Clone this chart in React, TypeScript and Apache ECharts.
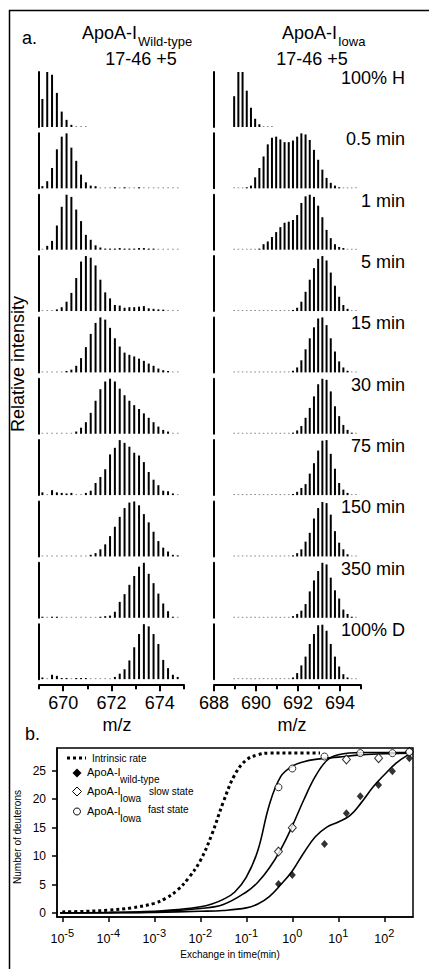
import React, { useEffect, useRef } from 'react';
import * as echarts from 'echarts';

// ---------------- Panel a data ----------------
const mzWT = [669.14, 669.34, 669.54, 669.74, 669.94, 670.14, 670.34, 670.54, 670.74, 670.94, 671.14, 671.34, 671.54, 671.74, 671.94, 672.14, 672.34, 672.54, 672.74, 672.94, 673.14, 673.34, 673.54, 673.74, 673.94, 674.14, 674.34, 674.54, 674.74];
const mzIowa = [688.96, 689.16, 689.36, 689.56, 689.76, 689.96, 690.16, 690.36, 690.56, 690.76, 690.96, 691.16, 691.36, 691.56, 691.76, 691.96, 692.16, 692.36, 692.56, 692.76, 692.96, 693.16, 693.36, 693.56, 693.76, 693.96, 694.16, 694.36, 694.56, 694.76];

const timeLabels = ['100% H', '0.5 min', '1 min', '5 min', '15 min', '30 min', '75 min', '150 min', '350 min', '100% D'];

const wt100H = [0.51, 1.0, 0.95, 0.62, 0.28, 0.13, 0.04, 0.01, 0.01, 0.01];
const wt05 = [0.04, 0.13, 0.37, 0.71, 0.94, 1.0, 0.74, 0.5, 0.25, 0.11, 0.05, 0.04, 0.01, 0.01, 0.01, 0.02, 0.01, 0.02, 0.01, 0.01, 0.02, 0.01, 0.01, 0.01, 0.01, 0.01, 0.01, 0.01, 0.01];
const wt1 = [0.01, 0.07, 0.16, 0.44, 0.78, 1.0, 0.96, 0.73, 0.52, 0.27, 0.18, 0.08, 0.04, 0.02, 0.02, 0.02, 0.03, 0.02, 0.02, 0.02, 0.03, 0.03, 0.02, 0.02, 0.01, 0.01, 0.01, 0.01, 0.01];
const wt5 = [0.01, 0.01, 0.01, 0.03, 0.07, 0.17, 0.33, 0.6, 0.9, 1.0, 0.97, 0.83, 0.57, 0.34, 0.23, 0.11, 0.1, 0.06, 0.07, 0.07, 0.08, 0.09, 0.05, 0.04, 0.03, 0.025, 0.01, 0.01, 0.01];
const wt15 = [0.01, 0.01, 0.01, 0.01, 0.01, 0.025, 0.05, 0.12, 0.26, 0.46, 0.7, 0.9, 1.0, 0.96, 0.81, 0.62, 0.47, 0.36, 0.32, 0.29, 0.25, 0.21, 0.16, 0.12, 0.07, 0.04, 0.025, 0.01, 0.01];
const wt30 = [0.01, 0.01, 0.01, 0.01, 0.01, 0.01, 0.01, 0.04, 0.11, 0.21, 0.38, 0.6, 0.81, 0.95, 1.0, 0.95, 0.82, 0.7, 0.6, 0.52, 0.45, 0.37, 0.29, 0.21, 0.13, 0.07, 0.04, 0.01, 0.01];
const wt75 = [0.05, 0.01, 0.09, 0.05, 0.04, 0.03, 0.04, 0.01, 0.01, 0.04, 0.08, 0.22, 0.33, 0.47, 0.74, 0.86, 1.0, 0.95, 0.88, 0.77, 0.72, 0.6, 0.42, 0.28, 0.18, 0.08, 0.07, 0.03, 0.01];
const wt150 = [0.01, 0.01, 0.01, 0.01, 0.01, 0.01, 0.01, 0.01, 0.01, 0.01, 0.03, 0.06, 0.13, 0.22, 0.37, 0.54, 0.72, 0.88, 0.98, 1.0, 0.93, 0.77, 0.62, 0.45, 0.28, 0.16, 0.09, 0.03, 0.02];
const wt350 = [0.02, 0.01, 0.02, 0.02, 0.01, 0.01, 0.01, 0.01, 0.01, 0.01, 0.01, 0.01, 0.02, 0.03, 0.04, 0.11, 0.29, 0.43, 0.6, 0.76, 0.93, 1.0, 0.8, 0.63, 0.44, 0.26, 0.12, 0.02, 0.01];
const wt100D = [0.03, 0.01, 0.08, 0.06, 0.02, 0.02, 0.01, 0.02, 0.02, 0.02, 0.01, 0.01, 0.01, 0.01, 0.01, 0.04, 0.1, 0.18, 0.34, 0.58, 0.82, 1.0, 0.96, 0.82, 0.64, 0.35, 0.2, 0.08, 0.04];
const wtSpectra = [wt100H, wt05, wt1, wt5, wt15, wt30, wt75, wt150, wt350, wt100D];

const iowa100H = [0.56, 1.0, 1.0, 0.66, 0.35, 0.15, 0.05, 0.01, 0.01, 0.01];
const iowa05 = [0.01, 0.01, 0.01, 0.02, 0.05, 0.2, 0.37, 0.58, 0.8, 0.92, 0.94, 0.89, 0.84, 0.84, 0.87, 0.94, 1.0, 0.98, 0.88, 0.7, 0.52, 0.34, 0.19, 0.1, 0.05, 0.02, 0.01, 0.01, 0.01, 0.01];
const iowa1 = [0.01, 0.01, 0.01, 0.01, 0.01, 0.01, 0.02, 0.1, 0.15, 0.23, 0.32, 0.41, 0.49, 0.51, 0.54, 0.63, 0.85, 0.97, 1.0, 0.96, 0.8, 0.59, 0.36, 0.21, 0.1, 0.05, 0.03, 0.01, 0.01, 0.01];
const iowa5 = [0.01, 0.01, 0.01, 0.01, 0.01, 0.01, 0.01, 0.01, 0.01, 0.01, 0.01, 0.01, 0.01, 0.01, 0.02, 0.06, 0.17, 0.35, 0.57, 0.78, 0.95, 1.0, 0.92, 0.7, 0.46, 0.26, 0.11, 0.04, 0.01, 0.01];
const iowa15 = [0.01, 0.01, 0.01, 0.01, 0.01, 0.01, 0.01, 0.01, 0.01, 0.01, 0.01, 0.01, 0.01, 0.01, 0.03, 0.09, 0.22, 0.42, 0.62, 0.82, 0.98, 1.0, 0.86, 0.62, 0.38, 0.2, 0.09, 0.03, 0.01, 0.01];
const iowa30 = [0.01, 0.01, 0.01, 0.01, 0.01, 0.01, 0.01, 0.01, 0.01, 0.01, 0.01, 0.01, 0.01, 0.01, 0.02, 0.06, 0.14, 0.29, 0.47, 0.68, 0.9, 1.0, 0.98, 0.77, 0.5, 0.32, 0.16, 0.07, 0.02, 0.01];
const iowa75 = [0.01, 0.01, 0.01, 0.01, 0.01, 0.01, 0.01, 0.01, 0.01, 0.01, 0.01, 0.01, 0.01, 0.01, 0.02, 0.06, 0.13, 0.2, 0.39, 0.58, 0.81, 0.99, 1.0, 0.75, 0.48, 0.22, 0.1, 0.04, 0.01, 0.01];
const iowa150 = [0.01, 0.01, 0.01, 0.01, 0.01, 0.01, 0.01, 0.01, 0.01, 0.01, 0.01, 0.01, 0.01, 0.01, 0.02, 0.06, 0.13, 0.27, 0.43, 0.69, 0.88, 0.99, 0.97, 0.76, 0.46, 0.25, 0.13, 0.04, 0.01, 0.01];
const iowa350 = [0.01, 0.01, 0.01, 0.01, 0.01, 0.01, 0.01, 0.01, 0.01, 0.01, 0.01, 0.01, 0.01, 0.01, 0.03, 0.07, 0.13, 0.25, 0.48, 0.68, 0.85, 1.0, 0.97, 0.73, 0.5, 0.35, 0.15, 0.07, 0.02, 0.01];
const iowa100D = [0.01, 0.01, 0.01, 0.01, 0.01, 0.01, 0.01, 0.01, 0.01, 0.01, 0.01, 0.01, 0.01, 0.01, 0.03, 0.11, 0.25, 0.41, 0.64, 0.82, 0.98, 0.99, 0.88, 0.64, 0.41, 0.23, 0.09, 0.03, 0.01, 0.01];
const iowaSpectra = [iowa100H, iowa05, iowa1, iowa5, iowa15, iowa30, iowa75, iowa150, iowa350, iowa100D];

const wtMajorTicks = [670, 672, 674];
const wtMinorTicks = [669, 671, 673, 675];
const iowaMajorTicks = [688, 690, 692, 694];
const iowaMinorTicks = [689, 691, 693, 695];

// ---------------- Panel b data ----------------
const timeTicks = [1e-5, 1e-4, 1e-3, 1e-2, 1e-1, 1, 10, 100];
const deutTicks = [0, 5, 10, 15, 20, 25];

const wtTimes = [0.5, 1, 5, 15, 30, 75, 150, 350];
const wtDeut = [5.1, 6.7, 12.15, 17.55, 20.5, 22.5, 24.9, 27.2];
const slowTimes = [0.5, 1, 15, 75, 350];
const slowDeut = [10.8, 15.0, 27.0, 27.2, 28.3];
const fastTimes = [0.5, 1, 5, 30, 150, 350];
const fastDeut = [22.1, 25.4, 27.5, 28.1, 28.1, 28.3];

const intrinsicCurve = [[1e-5, 0.2], [3.16e-5, 0.3], [1e-4, 0.5], [3.16e-4, 0.9], [1e-3, 1.7], [1.78e-3, 2.6], [3.16e-3, 4.0], [5.62e-3, 6.2], [0.01, 9.2], [0.0178, 13.8], [0.0316, 19.5], [0.0562, 24.3], [0.1, 26.9], [0.178, 27.8], [0.316, 28.1], [1, 28.1], [4, 28.1]];
const fastCurve = [[9e-6, 0.05], [1e-4, 0.1], [1e-3, 0.3], [3.16e-3, 0.6], [0.01, 1.1], [0.0178, 1.6], [0.0316, 2.4], [0.0562, 3.7], [0.1, 6.3], [0.178, 11.0], [0.316, 19.0], [0.562, 24.0], [1, 25.8], [1.78, 26.6], [3.16, 27.0], [10, 27.4], [31.6, 27.8], [100, 28.0], [420, 28.1]];
const slowCurve = [[9e-6, 0.03], [1e-4, 0.07], [1e-3, 0.2], [0.01, 0.8], [0.0316, 1.5], [0.1, 3.7], [0.178, 5.4], [0.316, 7.9], [0.562, 11.2], [1, 15.3], [1.78, 19.9], [3.16, 24.0], [5.62, 26.8], [10, 27.8], [31.6, 28.2], [420, 28.2]];
const wtCurve = [[9e-6, 0.03], [1e-4, 0.05], [1e-3, 0.12], [0.01, 0.3], [0.0316, 0.45], [0.1, 0.9], [0.178, 1.6], [0.316, 2.9], [0.562, 5.0], [1, 7.4], [1.78, 10.6], [3.16, 13.4], [5.62, 15.1], [10, 16.0], [17.8, 17.1], [31.6, 19.4], [56.2, 22.1], [100, 24.3], [178, 26.3], [316, 27.7], [420, 28.1]];

// ---------------- helpers ----------------
const FAMILY = '"Liberation Sans", Arial, Helvetica, sans-serif';
const font = (s: number) => `${s}px ${FAMILY}`;

function txt(x: number, y: number, s: string, size: number, align = 'left', extra: any = {}) {
  return {
    type: 'text', x, y, silent: true, ...extra,
    style: { text: s, font: font(size), fill: '#000', align, verticalAlign: 'middle', textAlign: align, textVerticalAlign: 'middle' },
  };
}

const barItem = (params: any, api: any) => {
  const x = api.value(0);
  const y = api.value(1);
  const p0 = api.coord([x, 0]);
  const p1 = api.coord([x, y]);
  const tiny = y <= 0.012;
  const h = Math.max(p0[1] - p1[1], 1);
  const w = tiny ? 1.6 : 2;
  return {
    type: 'rect',
    shape: { x: p0[0] - w / 2, y: p0[1] - h, width: w, height: h },
    style: { fill: tiny ? '#8a8a8a' : '#000' },
  };
};

function buildOption() {
  const grids: any[] = [];
  const xAxes: any[] = [];
  const yAxes: any[] = [];
  const series: any[] = [];
  const ROW_TOP = 72;
  const ROW_PITCH = 61.35;
  const ROW_H = 55;

  const panels = [
    { left: 39, width: 145, min: 669, max: 675, mz: mzWT, spectra: wtSpectra, major: wtMajorTicks, minor: wtMinorTicks },
    { left: 214, width: 147, min: 688, max: 695, mz: mzIowa, spectra: iowaSpectra, major: iowaMajorTicks, minor: iowaMinorTicks },
  ];

  panels.forEach((p) => {
    p.spectra.forEach((vals, k) => {
      const gi = grids.length;
      grids.push({ left: p.left, top: ROW_TOP + ROW_PITCH * k, width: p.width, height: ROW_H });
      const bottom = k === p.spectra.length - 1;
      const xi = xAxes.length;
      xAxes.push({
        type: 'value', gridIndex: gi, min: p.min, max: p.max, position: 'bottom', offset: bottom ? 6 : 0, show: bottom,
        axisLine: { show: bottom, onZero: false, lineStyle: { color: '#000', width: 2 } },
        axisTick: { show: bottom, customValues: p.major, length: 6, lineStyle: { color: '#000', width: 2 } },
        axisLabel: { show: bottom, customValues: p.major, fontSize: 18, fontFamily: FAMILY, color: '#000', margin: 9 },
        splitLine: { show: false },
      });
      if (bottom) {
        xAxes.push({
          type: 'value', gridIndex: gi, min: p.min, max: p.max, position: 'bottom', offset: 6,
          axisLine: { show: false, onZero: false },
          axisTick: { show: true, customValues: p.minor, length: 4, lineStyle: { color: '#000', width: 2 } },
          axisLabel: { show: false },
          splitLine: { show: false },
        });
      }
      const yi = yAxes.length;
      yAxes.push({
        type: 'value', gridIndex: gi, min: 0, max: 1,
        axisLine: { show: true, onZero: false, lineStyle: { color: '#000', width: 2 } },
        axisTick: { show: false }, axisLabel: { show: false }, splitLine: { show: false },
      });
      const data: any[] = [];
      p.mz.forEach((m, i) => {
        if (vals[i] !== undefined && vals[i] !== null) data.push([m, vals[i]]);
      });
      series.push({ type: 'custom', xAxisIndex: xi, yAxisIndex: yi, renderItem: barItem, data, clip: false, silent: true });
    });
  });

  // panel b
  const bg = grids.length;
  grids.push({ left: 57, top: 748, width: 356, height: 169, show: true, borderColor: '#000', borderWidth: 1.5, backgroundColor: 'transparent' });
  const bx = xAxes.length;
  xAxes.push({
    type: 'log', logBase: 10, gridIndex: bg, min: 7.67e-6, max: 420, position: 'bottom',
    axisLine: { show: true, onZero: false, lineStyle: { color: '#000', width: 1.5 } },
    axisTick: { show: true, customValues: timeTicks, length: 5, lineStyle: { color: '#000', width: 1.5 } },
    minorTick: { show: false },
    axisLabel: {
      show: true, customValues: timeTicks, margin: 10, color: '#000',
      formatter: (v: number) => `{b|10}{s|${Math.round(Math.log10(v))}}`,
      rich: {
        b: { fontSize: 12.5, fontFamily: FAMILY, color: '#000', padding: [5, 0, 0, 0], verticalAlign: 'bottom' },
        s: { fontSize: 11, fontFamily: FAMILY, color: '#000', verticalAlign: 'top' },
      },
    },
    splitLine: { show: false },
  });
  const by = yAxes.length;
  yAxes.push({
    type: 'value', gridIndex: bg, min: -0.7, max: 29,
    axisLine: { show: true, onZero: false, lineStyle: { color: '#000', width: 1.5 } },
    axisTick: { show: true, customValues: deutTicks, length: 5, lineStyle: { color: '#000', width: 1.5 } },
    axisLabel: { show: true, customValues: deutTicks, fontSize: 12, fontFamily: FAMILY, color: '#000', margin: 11 },
    splitLine: { show: false },
  });

  const lineBase = { type: 'line', xAxisIndex: bx, yAxisIndex: by, showSymbol: false, smooth: 0.4, silent: true };
  series.push({ ...lineBase, name: 'Intrinsic rate', data: intrinsicCurve, lineStyle: { color: '#000', width: 3, type: [3, 3], cap: 'butt' }, z: 3 });
  series.push({ ...lineBase, name: 'fast fit', data: fastCurve, lineStyle: { color: '#000', width: 1.6 }, z: 3 });
  series.push({ ...lineBase, name: 'slow fit', data: slowCurve, lineStyle: { color: '#000', width: 1.6 }, z: 3 });
  series.push({ ...lineBase, name: 'wt fit', data: wtCurve, lineStyle: { color: '#000', width: 1.6 }, z: 3 });

  series.push({
    type: 'scatter', xAxisIndex: bx, yAxisIndex: by, name: 'ApoA-I wild-type', symbol: 'diamond', symbolSize: [7, 8],
    data: wtTimes.map((t, i) => [t, wtDeut[i]]), itemStyle: { color: '#000' }, z: 5, silent: true,
  });
  series.push({
    type: 'scatter', xAxisIndex: bx, yAxisIndex: by, name: 'ApoA-I Iowa slow state', symbol: 'diamond', symbolSize: [8, 9],
    data: slowTimes.map((t, i) => [t, slowDeut[i]]), itemStyle: { color: '#fff', borderColor: '#000', borderWidth: 1 }, z: 5, silent: true,
  });
  series.push({
    type: 'scatter', xAxisIndex: bx, yAxisIndex: by, name: 'ApoA-I Iowa fast state', symbol: 'circle', symbolSize: 7,
    data: fastTimes.map((t, i) => [t, fastDeut[i]]), itemStyle: { color: '#fff', borderColor: '#000', borderWidth: 1 }, z: 6, silent: true,
  });

  // graphics
  const graphics: any[] = [];
  graphics.push({ type: 'rect', silent: true, shape: { x: 9.5, y: 10.5, width: 440, height: 980 }, style: { fill: 'none', stroke: '#000', lineWidth: 1.5 } });
  graphics.push(txt(22, 38, 'a.', 18));
  graphics.push(txt(82, 33, 'ApoA-I', 18));
  graphics.push(txt(138, 41, 'Wild-type', 13));
  graphics.push(txt(141, 59, '17-46 +5', 18, 'center'));
  graphics.push(txt(282, 33, 'ApoA-I', 18));
  graphics.push(txt(338, 41, 'Iowa', 13));
  graphics.push(txt(312, 59, '17-46 +5', 18, 'center'));
  timeLabels.forEach((l, k) => {
    graphics.push(txt(405, ROW_TOP + ROW_PITCH * k + 6, l, 18, 'right'));
  });
  graphics.push(txt(18, 364, 'Relative intensity', 18, 'center', { rotation: Math.PI / 2 }));
  graphics.push(txt(117, 725, 'm/z', 18, 'center'));
  graphics.push(txt(292, 725, 'm/z', 18, 'center'));
  graphics.push(txt(25, 734, 'b.', 18));
  graphics.push(txt(17, 837, 'Number of deuterons', 10, 'center', { rotation: Math.PI / 2 }));
  graphics.push(txt(230, 954, 'Exchange in time(min)', 10, 'center'));

  // legend of panel b
  graphics.push({ type: 'line', silent: true, shape: { x1: 67, y1: 758, x2: 86, y2: 758 }, style: { stroke: '#000', lineWidth: 3, lineDash: [3, 3] } });
  graphics.push(txt(92, 758, 'Intrinsic rate', 10));
  graphics.push({ type: 'polygon', silent: true, shape: { points: [[77, 768.5], [81.5, 773], [77, 777.5], [72.5, 773]] }, style: { fill: '#000' } });
  graphics.push(txt(87, 772, 'ApoA-I', 11));
  graphics.push(txt(120, 779, 'wild-type', 10));
  graphics.push({ type: 'polygon', silent: true, shape: { points: [[77, 787], [81.5, 791.5], [77, 796], [72.5, 791.5]] }, style: { fill: '#fff', stroke: '#000', lineWidth: 1 } });
  graphics.push(txt(87, 791, 'ApoA-I', 11));
  graphics.push(txt(120, 798.5, 'Iowa', 10));
  graphics.push(txt(149, 791, 'slow state', 10));
  graphics.push({ type: 'circle', silent: true, shape: { cx: 77, cy: 811.5, r: 3.5 }, style: { fill: '#fff', stroke: '#000', lineWidth: 1 } });
  graphics.push(txt(87, 811, 'ApoA-I', 11));
  graphics.push(txt(120, 818.5, 'Iowa', 10));
  graphics.push(txt(148, 809, 'fast state', 10));

  return {
    animation: false,
    backgroundColor: '#fff',
    textStyle: { fontFamily: FAMILY },
    grid: grids,
    xAxis: xAxes,
    yAxis: yAxes,
    series,
    graphic: { elements: graphics },
  };
}

export default function App() {
  const ref = useRef<HTMLDivElement>(null);
  useEffect(() => {
    if (!ref.current) return;
    const chart = echarts.init(ref.current, undefined, { renderer: 'svg' });
    chart.setOption(buildOption() as any);
    return () => chart.dispose();
  }, []);
  return <div ref={ref} style={{ position: 'absolute', left: 0, top: 0, width: 429, height: 969 }} />;
}
